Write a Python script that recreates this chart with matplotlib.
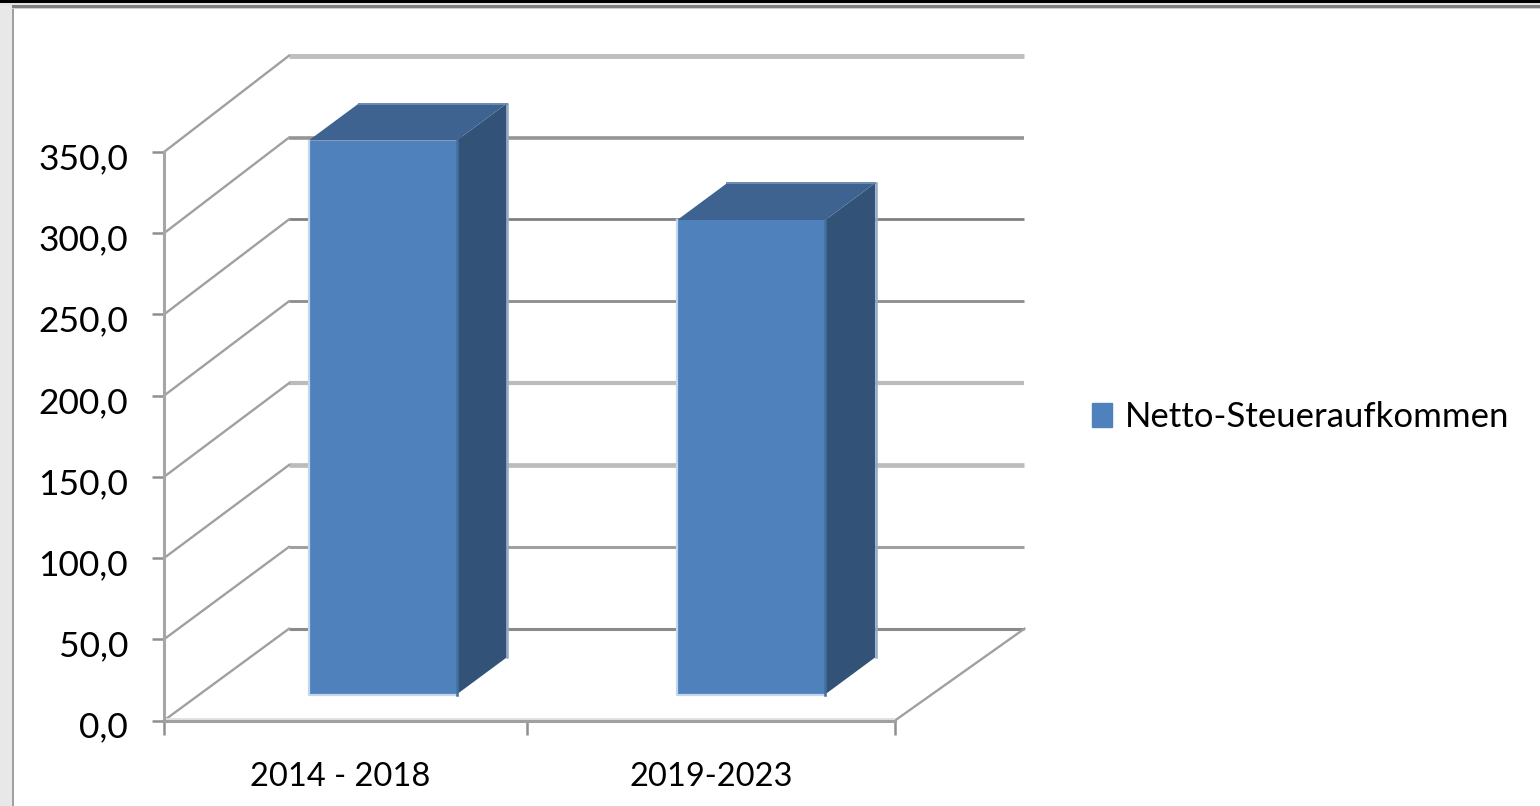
import matplotlib
matplotlib.use("Agg")
import matplotlib.pyplot as plt
from matplotlib.patches import Patch, Rectangle, Polygon
from matplotlib.transforms import ScaledTranslation

plt.rcParams['font.family'] = ['Lato', 'DejaVu Sans']

categories = ["2014 - 2018", "2019-2023"]
series_name = "Netto-Steueraufkommen"
values = [341.0, 292.0]
y_ticks = [0, 50, 100, 150, 200, 250, 300, 350]
y_labels = ["0,0", "50,0", "100,0", "150,0", "200,0", "250,0", "300,0", "350,0"]

W, H = 1540, 806
fig = plt.figure(figsize=(W / 100, H / 100), dpi=100, facecolor="white")

# window frame around the chart
def frame(x, y, w, h, color):
	fig.add_artist(Rectangle((x / W, 1 - (y + h) / H), w / W, h / H, transform=fig.transFigure, color=color, lw=0))

frame(0, 0, 12, H, "#e8e8e8")
frame(12, 6, 1.5, H, "#a0a0a0")
frame(0, 0, W, 3.5, "#000000")
frame(0, 3.5, W, 2, "#e4e4e4")
frame(12, 5.5, W, 2, "#808080")
frame(12, 7.5, W, 1.5, "#d0d0d0")

ax = fig.add_axes([164 / W, 1 - 720.5 / H, 731 / W, 568.5 / H])
ax.set_xlim(0, 2)
ax.set_ylim(0, 350)
ax.patch.set_alpha(0)
for s in ["top", "right"]:
	ax.spines[s].set_visible(False)
ax.spines["left"].set_color("#a6a6a6")
ax.spines["left"].set_linewidth(2.2)
ax.spines["bottom"].set_color("#a0a0a0")
ax.spines["bottom"].set_linewidth(2.2)

# depth of the fake 3d box, in axis units
box_dx = 0.342
box_dy = 56.5
back_stretch = 1.008
back_end = 2.354

# the gridlines differ a bit in the screenshot from the resampling
grid_cols = ["#8a8a8a", "#a0a0a0", "#bcbcbc", "#bcbcbc", "#8c8c8c", "#808080", "#959595", "#c0c0c0"]
grid_lw = [2.2, 2.2, 3.4, 3.0, 2.0, 2.0, 2.6, 3.6]

for t, c, lw in zip(y_ticks, grid_cols, grid_lw):
	yb = t * back_stretch + box_dy
	ax.plot([box_dx, back_end], [yb, yb], color=c, lw=lw, clip_on=False, zorder=1, solid_capstyle="butt")
	ax.plot([0, box_dx], [t, yb], color="#a0a0a0", lw=1.7, clip_on=False, zorder=1)

ax.plot([2, back_end], [0, box_dy], color="#a0a0a0", lw=1.7, clip_on=False, zorder=1)
ax.axhline(1.2, color="#e0e0e0", lw=2, zorder=1)

# bars
bar_pos = [0.5, 1.508]
floor_dx = 0.098
floor_dy = 16.0
bar_w = 0.405
bar_dx = 0.137
bar_dy = 22.8

for pos, v in zip(bar_pos, values):
	x0 = pos + floor_dx - bar_w / 2
	x1 = x0 + bar_w
	y0 = floor_dy
	y1 = floor_dy + v
	# side
	ax.add_patch(Polygon([(x1, y0), (x1 + bar_dx, y0 + bar_dy), (x1 + bar_dx, y1 + bar_dy), (x1, y1)],
		fc="#325277", lw=0, clip_on=False, zorder=3))
	ax.plot([x1 + bar_dx + 0.002] * 2, [y0 + bar_dy, y1 + bar_dy], color="#93a9c4", lw=1.8, clip_on=False, zorder=3)
	# top
	ax.add_patch(Polygon([(x0, y1), (x0 + bar_dx, y1 + bar_dy), (x1 + bar_dx, y1 + bar_dy), (x1, y1)],
		fc="#3e6390", lw=0, clip_on=False, zorder=3))
	ax.plot([x0 + bar_dx, x1 + bar_dx], [y1 + bar_dy] * 2, color="#6d8bb0", lw=1.4, clip_on=False, zorder=3)
	# front
	ax.add_patch(Polygon([(x0, y0), (x1, y0), (x1, y1), (x0, y1)],
		fc="#4f81bd", lw=0, clip_on=False, zorder=4))
	ax.plot([x0, x0, x1], [y1, y0, y0], color="#c5d6ea", lw=1.6, clip_on=False, zorder=5)
	ax.plot([x1, x1], [y0, y1], color="#44709f", lw=1.8, clip_on=False, zorder=5)

ax.set_yticks(y_ticks)
ax.set_yticklabels(y_labels)
ax.set_xticks([0, 0.992, 2])
ax.set_xticklabels([])
ax.set_xticks([0.482, 1.497], minor=True)
ax.set_xticklabels(categories, minor=True)
ax.tick_params(axis="y", length=9, width=1.8, color="#909090", labelsize=25.5, pad=17, labelcolor="black")
ax.tick_params(axis="x", which="major", length=10, width=1.8, color="#909090")
ax.tick_params(axis="x", which="minor", length=0, labelsize=23.5, pad=30, labelcolor="black")

# labels sit a little below their ticks in the reference
for lab in ax.get_yticklabels():
	lab.set_transform(lab.get_transform() + ScaledTranslation(0, -3 / 72, fig.dpi_scale_trans))

handle = Patch(facecolor="#4f81bd", edgecolor="#4f81bd", label=series_name)
fig.legend(handles=[handle], loc="center left", bbox_to_anchor=(1061 / W, 1 - 417 / H), frameon=False,
	fontsize=25, handlelength=0.58, handleheight=0.66, handletextpad=0.35, borderpad=0.4, labelcolor="black")

fig.savefig("out.png", dpi=100)
